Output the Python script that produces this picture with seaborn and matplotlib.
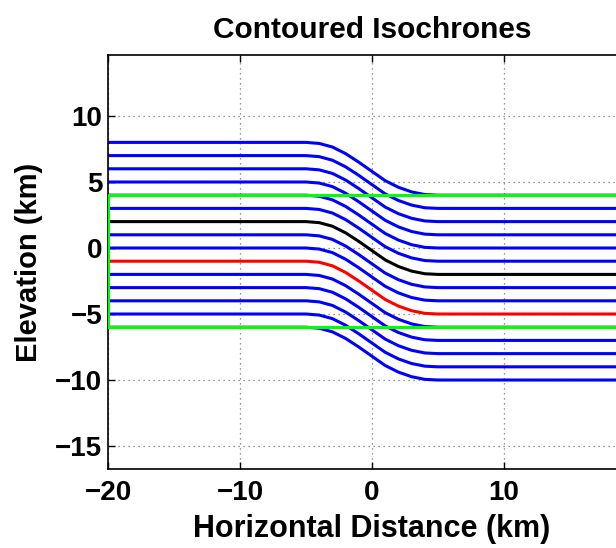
import numpy as np
import pandas as pd
import matplotlib
matplotlib.use("Agg")
import matplotlib.pyplot as plt
import seaborn as sns

# ---- data ----
left_levels = [8, 7, 6, 5, 4, 3, 2, 1, 0, -1, -2, -3, -4, -5, -6]
line_colors = ["blue"] * 6 + ["black"] + ["blue"] * 2 + ["red"] + ["blue"] * 5
profile_x = [-20, -5, -4, -3, -2, -1, 0, 1, 2, 3, 4, 5, 20]
profile_offset = [0, 0, -0.08, -0.35, -0.85, -1.5, -2.2, -2.9, -3.4, -3.75, -3.95, -4.0, -4.0]
box_x = [-20, 20, 20, -20, -20]
box_y = [4, 4, -6, -6, 4]
x_ticks = [-20, -10, 0, 10]
x_ticklabels = ["\u221220", "\u221210", "0", "10"]
y_ticks = [-15, -10, -5, 0, 5, 10]
y_ticklabels = ["\u221215", "\u221210", "\u22125", "0", "5", "10"]

rows = []
for i, lv in enumerate(left_levels):
    for j, (px, po) in enumerate(zip(profile_x, profile_offset)):
        rows.append({"line": f"L{i}", "order": j, "x": px, "y": lv + po})
df = pd.DataFrame(rows)
box = pd.DataFrame({"x": box_x, "y": box_y})

sns.set_style("ticks")
plt.rcParams["font.family"] = ["Liberation Sans", "DejaVu Sans"]
plt.rcParams["font.weight"] = "bold"
plt.rcParams["text.color"] = "black"
plt.rcParams["axes.labelcolor"] = "black"
plt.rcParams["xtick.color"] = "black"
plt.rcParams["ytick.color"] = "black"

fig = plt.figure(figsize=(6.16, 5.48), dpi=100)
ax = fig.add_axes([108 / 616, 79 / 548, 528 / 616, 414 / 548])

ax.grid(True, linestyle=(0, (1, 3)), color="0.45", linewidth=0.9)
ax.set_axisbelow(True)

order_idx = [i for i, c in enumerate(line_colors) if c == "blue"] + \
            [i for i, c in enumerate(line_colors) if c != "blue"]
for i in order_idx:
    sub = df[df["line"] == f"L{i}"]
    sns.lineplot(data=sub, x="x", y="y", color=line_colors[i], sort=False,
                 estimator=None, linewidth=2.2, ax=ax, legend=False)

sns.lineplot(data=box, x="x", y="y", color=(0, 1, 0), sort=False,
             estimator=None, linewidth=2.2, ax=ax, legend=False)
ax.lines[-1].set_zorder(3)

ax.set_xlim(-20, 20)
ax.set_ylim(-16.74, 14.62)
ax.set_xticks(x_ticks)
ax.set_yticks(y_ticks)
ax.set_xticklabels(x_ticklabels)
ax.set_yticklabels(y_ticklabels)
ax.tick_params(direction="in", length=5, width=1, labelsize=20,
               top=True, right=True, colors="black")
ax.tick_params(axis="x", pad=8)
ax.tick_params(axis="y", pad=4)
for lab in ax.get_xticklabels() + ax.get_yticklabels():
    lab.set_fontweight("bold")
for s in ax.spines.values():
    s.set_linewidth(1.2)
    s.set_color("black")

ax.set_xlabel("Horizontal Distance (km)", fontsize=22, fontweight="bold", labelpad=6)
ax.set_ylabel("Elevation (km)", fontsize=21, fontweight="bold", labelpad=9)
ax.set_title("Contoured Isochrones", fontsize=21.5, fontweight="bold", pad=12)

fig.savefig("out.png", dpi=100)
